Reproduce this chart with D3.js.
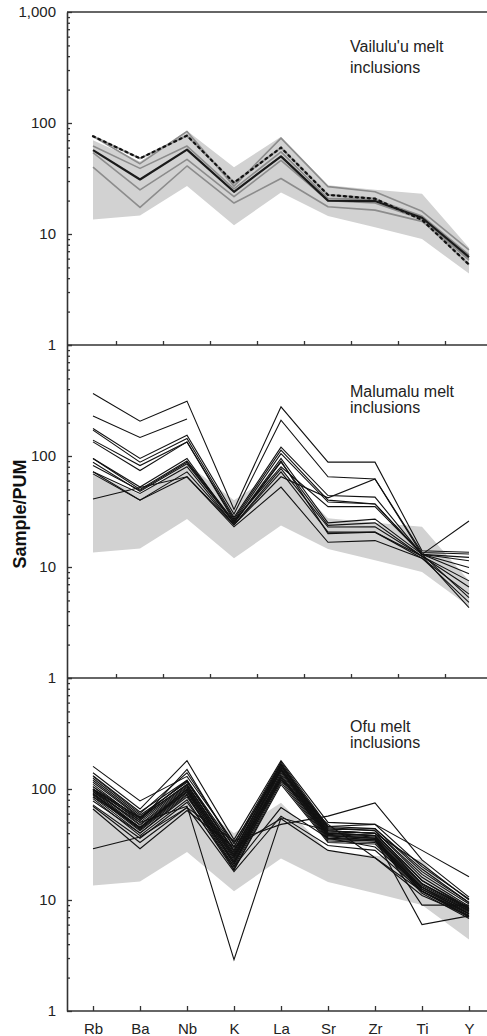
<!DOCTYPE html>
<html>
<head>
<meta charset="utf-8">
<script src="https://cdn.jsdelivr.net/npm/d3@7"></script>
<style>
  html, body { margin: 0; padding: 0; background: #fff; }
  svg { display: block; font-family: "Liberation Sans", Arial, Helvetica, sans-serif; }
</style>
</head>
<body>
<svg id="chart" width="487" height="1036"></svg>
<script>
// Trace elements normalised to primitive upper mantle (PUM)
const categories = ["Rb", "Ba", "Nb", "K", "La", "Sr", "Zr", "Ti", "Y"];

// Field of Samoan lavas drawn behind each panel
const fieldUpper = [70, 45, 85, 40, 75, 27.5, 25, 23, 7.5];
const fieldLower = [13.5, 14.7, 27, 12, 23.6, 14.5, 11.5, 9, 4.4];

// Vailulu'u melt inclusions
const vailuluuGray = [
  [76, 43, 84, 27, 73, 26.7, 24, 16, 7.2],
  [62, 39, 62, 25.5, 55, 21, 20.5, 14.5, 6.5],
  [54, 25, 47, 21.7, 46, 20, 19, 13.6, 5.8],
  [40, 17.4, 41, 19, 31.6, 17.6, 16.4, 13, 6]
];
const vailuluuThick = [57, 31, 57.6, 24, 50, 20, 19.8, 14, 6.2];
const vailuluuDotted = [76, 48, 77, 29, 60, 22.5, 20.8, 13.4, 5.3];

// Malumalu melt inclusions (null = not analysed)
const malumalu = [
  [366, 206, 312, 33, 277, 88, 88, 14, 13.6],
  [229, 147, 215, null, null, null, null, null, null],
  [177, 95, 154, 30, 210, 65, 62, 13.5, 13.1],
  [171, 88, 144, 28, 120, 44, 42.6, 13, 12.2],
  [139, 82, 134, 27, 113, 40, 37, 13, 11.4],
  [134, 74, 134, 26, 105, 38.5, 37, 13, 9.9],
  [95, 52.5, 95, 25, 95, 25, 27, 13, 8.7],
  [82, 49, 88, 25, 88, 23.7, 25, 12.5, 7.5],
  [72, 46, 80, 24, 77, 22.9, 23, 12.5, 6.6],
  [69, 40, 72, 24, 72, 20.6, 20.6, 12, 5.7],
  [41, 52, 65, 24, 65, 42, 62, 13, 5.3],
  [72, 40, 65, 23, 52.5, 16.7, 17.3, 12, 4.8],
  [95, 50, 90, 26, 80, 35, 35, 13, 26],
  [88, 48, 85, 25, 90, 20, 20.6, 12.5, 4.3]
];

// Ofu melt inclusions
const ofu = [
  [160, 78, 130, 33, 150, 45, 42, 17, 9.2],
  [132, 62, 120, 30, 170, 44, 42, 16, 8.8],
  [125, 58, 115, 28, 165, 42, 40, 15, 8.6],
  [120, 56, 118, 27, 160, 41, 40, 15, 8.4],
  [115, 55, 110, 26, 155, 40, 38, 14, 8.3],
  [110, 52, 108, 25, 150, 40, 38, 14, 8.2],
  [105, 50, 105, 24, 148, 39, 37, 13.5, 8.1],
  [100, 48, 103, 23, 145, 38, 36, 13, 8.0],
  [98, 47, 100, 22, 140, 38, 36, 13, 7.9],
  [95, 45, 98, 22, 135, 37, 35, 12.5, 7.8],
  [92, 44, 95, 21, 130, 36, 35, 12.5, 7.6],
  [90, 43, 93, 21, 125, 36, 34, 12, 7.5],
  [88, 42, 90, 20, 120, 35, 34, 12, 7.3],
  [85, 40, 88, 19, 115, 34, 33, 12, 7.1],
  [82, 38, 80, 18.6, 110, 33, 32, 11.5, 6.8],
  [130, 60, 140, 32, 175, 46, 44, 18, 9.5],
  [140, 66, 180, 35, 180, 50, 48, 20, 10.2],
  [100, 52, 150, 30, 168, 43, 44, 19, 9.5],
  [72, 36, 76, 20, 68, 36, 30, 13, 7.5],
  [70, 33, 68, 18, 57, 31, 28, 12, 7.0],
  [66, 29, 64, 30, 54, 28, 24, 11, 7.2],
  [29, 37, 68, 34, 48, 57, 75, 23, 10.6],
  [95, 50, 70, 2.9, 55, 42, 40, 14, 8.5],
  [100, 55, 120, 28, 160, 46, 48, 28, 16.2],
  [85, 45, 100, 25, 130, 40, 38, 9, 9],
  [90, 45, 95, 24, 125, 38, 36, 6, 7.2],
  [78, 40, 85, 22, 120, 48, 24, 12, 7.5],
  [105, 54, 110, 26, 150, 42, 40, 21, 10]
];

const yMajorLabels = { 1: "1", 10: "10", 100: "100", 1000: "1,000" };

const svg = d3.select("#chart");
const left = 67, right = 487;
const panelTops = [12, 345, 678];
const panelH = 333;

const x = d3.scalePoint().domain(categories).range([93, 469]);

const axisColor = "#333";
const fieldColor = "#d2d2d2";

const panels = [
  { title: ["Vailulu'u melt", "inclusions"], baselines: [51.7, 73.3], topLabel: true },
  { title: ["Malumalu melt", "inclusions"], baselines: [396.5, 412.7], topLabel: false },
  { title: ["Ofu melt", "inclusions"], baselines: [731.5, 748.3], topLabel: false }
];

panels.forEach((p, i) => {
  const top = panelTops[i];
  const bottom = top + panelH;
  const y = d3.scaleLog().domain([1, 1000]).range([bottom, top]);
  const g = svg.append("g");

  // shaded field
  const area = d3.area()
    .x((d, j) => x(categories[j]))
    .y0((d, j) => y(fieldLower[j]))
    .y1((d, j) => y(fieldUpper[j]));
  g.append("path").datum(fieldUpper).attr("d", area).attr("fill", fieldColor);

  const line = d3.line()
    .defined(d => d != null)
    .x((d, j) => x(categories[j]))
    .y(d => y(d));

  if (i === 0) {
    vailuluuGray.forEach(s => {
      g.append("path").datum(s).attr("d", line)
        .attr("fill", "none").attr("stroke", "#8c8c8c").attr("stroke-width", 1.6)
        .attr("stroke-linejoin", "round");
    });
    g.append("path").datum(vailuluuDotted).attr("d", line)
      .attr("fill", "none").attr("stroke", "#9a9a9a").attr("stroke-width", 2.2);
    g.append("path").datum(vailuluuDotted).attr("d", line)
      .attr("fill", "none").attr("stroke", "#111").attr("stroke-width", 2.2)
      .attr("stroke-dasharray", "2,4").attr("stroke-linecap", "round");
    g.append("path").datum(vailuluuThick).attr("d", line)
      .attr("fill", "none").attr("stroke", "#1a1a1a").attr("stroke-width", 2.2)
      .attr("stroke-linejoin", "round");
  } else {
    const data = i === 1 ? malumalu : ofu;
    data.forEach(s => {
      g.append("path").datum(s).attr("d", line)
        .attr("fill", "none").attr("stroke", "#111").attr("stroke-width", 1.1)
        .attr("stroke-linejoin", "miter");
    });
  }

  // left log axis with inward ticks
  const ticks = y.ticks();
  const ax = g.append("g").attr("transform", `translate(${left},0)`)
    .call(d3.axisLeft(y).tickValues(ticks).tickSizeOuter(0).tickPadding(5)
      .tickFormat(d => {
        if (!yMajorLabels[d]) return "";
        if (d === 1000 && !p.topLabel) return "";
        return yMajorLabels[d];
      }));
  ax.select(".domain").attr("stroke", axisColor).attr("stroke-width", 1.6);
  ax.selectAll(".tick line")
    .attr("x2", d => yMajorLabels[d] ? 5 : 3)
    .attr("stroke", axisColor).attr("stroke-width", 1.3);
  ax.selectAll(".tick text").attr("font-size", 15).attr("fill", "#222")
    .attr("font-family", "'Liberation Sans', Arial, sans-serif");

  // panel title
  g.selectAll(".ptitle").data(p.title).enter().append("text")
    .attr("x", 350).attr("y", (d, k) => p.baselines[k])
    .attr("font-size", 16).attr("fill", "#222").text(d => d);

  // top border of the first panel
  if (i === 0) {
    g.append("line").attr("x1", left).attr("x2", right).attr("y1", top).attr("y2", top)
      .attr("stroke", axisColor).attr("stroke-width", 1.6);
  }

  // bottom border with ticks
  if (i < 2) {
    g.append("line").attr("x1", left).attr("x2", right).attr("y1", bottom).attr("y2", bottom)
      .attr("stroke", axisColor).attr("stroke-width", 1.6);
    const mids = categories.slice(0, -1).map((c, k) => (x(c) + x(categories[k + 1])) / 2);
    g.selectAll(".mtick").data(mids).enter().append("line")
      .attr("x1", d => d).attr("x2", d => d)
      .attr("y1", bottom).attr("y2", bottom - 4)
      .attr("stroke", axisColor).attr("stroke-width", 1.3);
  } else {
    const bx = g.append("g").attr("transform", `translate(0,${bottom})`)
      .call(d3.axisBottom(x).tickSizeOuter(0).tickSizeInner(-5).tickPadding(12));
    bx.select(".domain").attr("d", `M${left},0H${right}`)
      .attr("stroke", axisColor).attr("stroke-width", 1.6);
    bx.selectAll(".tick line").attr("stroke", axisColor).attr("stroke-width", 1.3);
    bx.selectAll(".tick text").attr("font-size", 15).attr("fill", "#222")
      .attr("font-family", "'Liberation Sans', Arial, sans-serif");
  }
});

// y-axis title
svg.append("text")
  .attr("transform", "translate(26,514) rotate(-90)")
  .attr("text-anchor", "middle")
  .attr("font-size", 18).attr("font-weight", "bold").attr("fill", "#111")
  .text("Sample/PUM");
</script>
</body>
</html>
